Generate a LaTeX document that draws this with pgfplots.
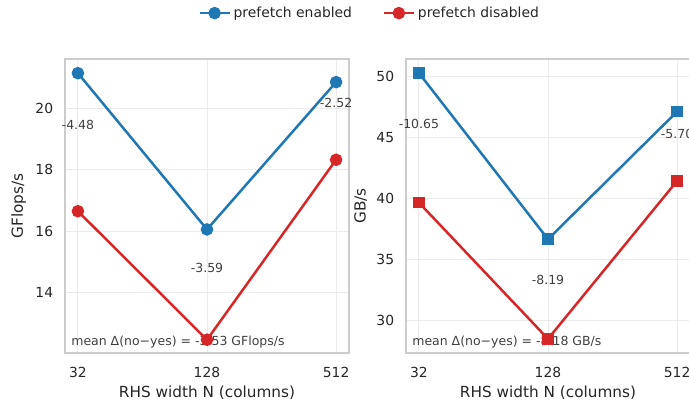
\documentclass[border=0pt]{standalone}
\usepackage{fontspec}
\setmainfont{DejaVu Sans}
\usepackage{pgfplots}
\pgfplotsset{compat=1.18}
\definecolor{cblue}{HTML}{1F77B4}
\definecolor{cred}{HTML}{D62728}
\definecolor{txt}{HTML}{262626}
\definecolor{frame}{HTML}{CCCCCC}
\definecolor{gridc}{HTML}{EBEBEB}
\definecolor{ann}{HTML}{404040}
\pgfplotsset{
  common/.style={
    scale only axis,
    width=204.48pt, height=211.68pt,
    xmin=-0.1, xmax=2.1,
    xtick={0,1,2}, xticklabels={32,128,512},
    grid=major,
    major grid style={gridc, line width=0.6pt},
    axis line style={frame, line width=0.8pt},
    tick style={draw=none},
    ticklabel style={font=\fontsize{10}{12}\selectfont, text=txt},
    label style={font=\fontsize{11}{13}\selectfont, text=txt},
    /pgf/number format/assume math mode=true,
    xlabel={RHS width N (columns)},
    xticklabel style={yshift=-7pt},
    yticklabel style={xshift=-5pt},
    xlabel style={yshift=1pt},
    ylabel style={yshift=0pt},
    clip=false,
  },
}
\begin{document}
\begin{tikzpicture}
\begin{axis}[common, at={(46.8pt,35.28pt)}, anchor=south west,
  ymin=12.05, ymax=21.59, ytick={14,16,18,20},
  ylabel={GFlops/s},
  legend style={at={(1.074,1.156)}, anchor=center, draw=none, fill=none,
    legend columns=2, font=\fontsize{10}{12}\selectfont, text=txt,
    /tikz/every even column/.append style={column sep=20pt}},
  legend image code/.code={\draw[#1, mark repeat=2, mark phase=2] plot coordinates {(0cm,0cm) (0.38cm,0cm) (0.76cm,0cm)};},
]
\node[font=\fontsize{9}{11}\selectfont, text=ann, anchor=south west] at (rel axis cs:0.005,0.0) {mean Δ(no−yes) = -3.53 GFlops/s};
\addplot[cblue, line width=1.8pt, mark=*, mark size=3.6pt] coordinates {(0,21.13) (1,16.06) (2,20.84)};
\addlegendentry{prefetch enabled}
\addplot[cred, line width=1.8pt, mark=*, mark size=3.6pt] coordinates {(0,16.65) (1,12.48) (2,18.32)};
\addlegendentry{prefetch disabled}
\node[font=\fontsize{9}{11}\selectfont, text=ann] at (axis cs:0,19.45) {-4.48};
\node[font=\fontsize{9}{11}\selectfont, text=ann] at (axis cs:1,14.80) {-3.59};
\node[font=\fontsize{9}{11}\selectfont, text=ann] at (axis cs:2,20.16) {-2.52};
\end{axis}
\begin{axis}[common, at={(292.32pt,35.28pt)}, anchor=south west,
  ymin=27.29, ymax=51.45, ytick={30,35,40,45,50},
  ylabel={GB/s},
]
\node[font=\fontsize{9}{11}\selectfont, text=ann, anchor=south west] at (rel axis cs:0.005,0.0) {mean Δ(no−yes) = -8.18 GB/s};
\addplot[cblue, line width=1.8pt, mark=square*, mark size=3.3pt] coordinates {(0,50.30) (1,36.64) (2,47.13)};
\addplot[cred, line width=1.8pt, mark=square*, mark size=3.3pt] coordinates {(0,39.65) (1,28.45) (2,41.43)};
\node[font=\fontsize{9}{11}\selectfont, text=ann] at (axis cs:0,46.13) {-10.65};
\node[font=\fontsize{9}{11}\selectfont, text=ann] at (axis cs:1,33.30) {-8.19};
\node[font=\fontsize{9}{11}\selectfont, text=ann] at (axis cs:2,45.30) {-5.70};
\end{axis}
\pgfresetboundingbox
\useasboundingbox (0,0) rectangle (496.08pt,289.44pt);
\end{tikzpicture}
\end{document}
